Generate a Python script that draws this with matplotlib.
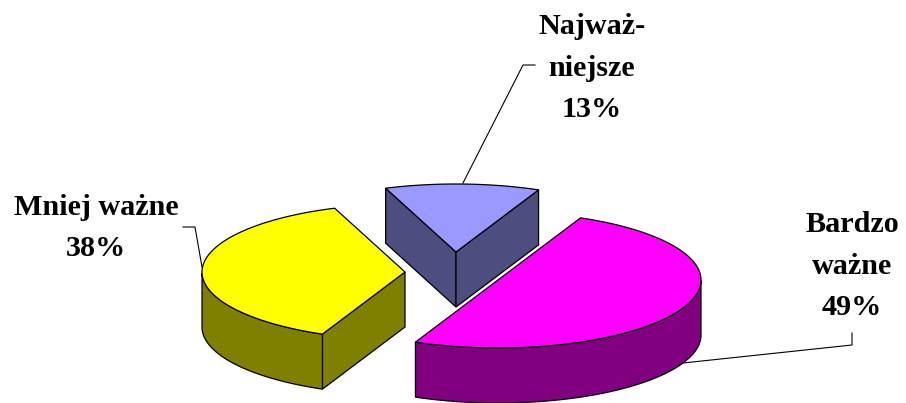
"""Exploded 3D pie (drawn by hand from the shares, matplotlib has no 3D pie)."""
import numpy as np
import matplotlib
matplotlib.use("Agg")
import matplotlib.pyplot as plt
from matplotlib.patches import Polygon

plt.rcParams["font.family"] = ["Liberation Serif", "DejaVu Serif"]

labels = ["Bardzo\nważne\n49%", "Mniej ważne\n38%", "Najważ-\nniejsze\n13%"]
# sweep of each slice as measured on the picture, in percent of the circle
shares = [50.0, 37.7, 12.3]
top_colors = ["#FF00FF", "#FFFF00", "#9999FF"]
side_colors = ["#800080", "#808000", "#4D4D80"]

# layout in pixels of the 906x403 picture
RX, RY, DEPTH = 203, 68, 55
START = 66
centers = [(498, 280), (405, 272), (456, 252)]
label_pos = [(852, 266), (96, 228), (592, 68)]
leaders = [
    [(683, 363), (852, 345), (852, 333)],
    [(202, 267), (195, 227), (183, 227)],
    [(463, 183), (523, 65), (535, 65)],
]


def arc(cx, cy, t0, t1):
    t = np.radians(np.linspace(t0, t1, 120))
    return np.column_stack([cx + RX * np.cos(t), cy - RY * np.sin(t)])


def draw_slice(ax, cx, cy, t0, t1, top, side):
    # t0 > t1, slices run clockwise
    pts = arc(cx, cy, t0, t1)
    down = np.array([0, DEPTH])
    apex = np.array([cx, cy])
    # a cut face shows only when it turns towards the viewer
    if np.cos(np.radians(t0)) < 0:
        ax.add_patch(Polygon([apex, pts[0], pts[0] + down, apex + down], fc=side, ec="black", lw=0.9))
    if np.sin(np.radians(t1 - 90)) < 0:
        ax.add_patch(Polygon([apex, pts[-1], pts[-1] + down, apex + down], fc=side, ec="black", lw=0.9))
    # only the front part of the rim can be seen
    t = np.linspace(t0, t1, 120)
    front = pts[np.sin(np.radians(t)) <= 0]
    if len(front):
        ax.add_patch(Polygon(np.vstack([front, front[::-1] + down]), fc=side, ec="black", lw=0.9))
    ax.add_patch(Polygon(np.vstack([apex, pts]), fc=top, ec="black", lw=0.9))


fig = plt.figure(figsize=(9.06, 4.03), dpi=100)
ax = fig.add_axes([0, 0, 1, 1])
ax.set_xlim(0, 906)
ax.set_ylim(403, 0)
ax.axis("off")

angle = START
spans = []
for v in shares:
    spans.append((angle, angle - v / sum(shares) * 360))
    angle = spans[-1][1]

# back slice first
for i in [2, 1, 0]:
    cx, cy = centers[i]
    draw_slice(ax, cx, cy, spans[i][0], spans[i][1], top_colors[i], side_colors[i])

for line in leaders:
    xs, ys = zip(*line)
    ax.plot(xs, ys, color="black", lw=0.8)

for txt, (x, y) in zip(labels, label_pos):
    ax.text(x, y, txt, ha="center", va="center", fontsize=21.7, fontweight="bold",
            color="black", linespacing=1.68)

fig.savefig("out.png", dpi=100, facecolor="white")
